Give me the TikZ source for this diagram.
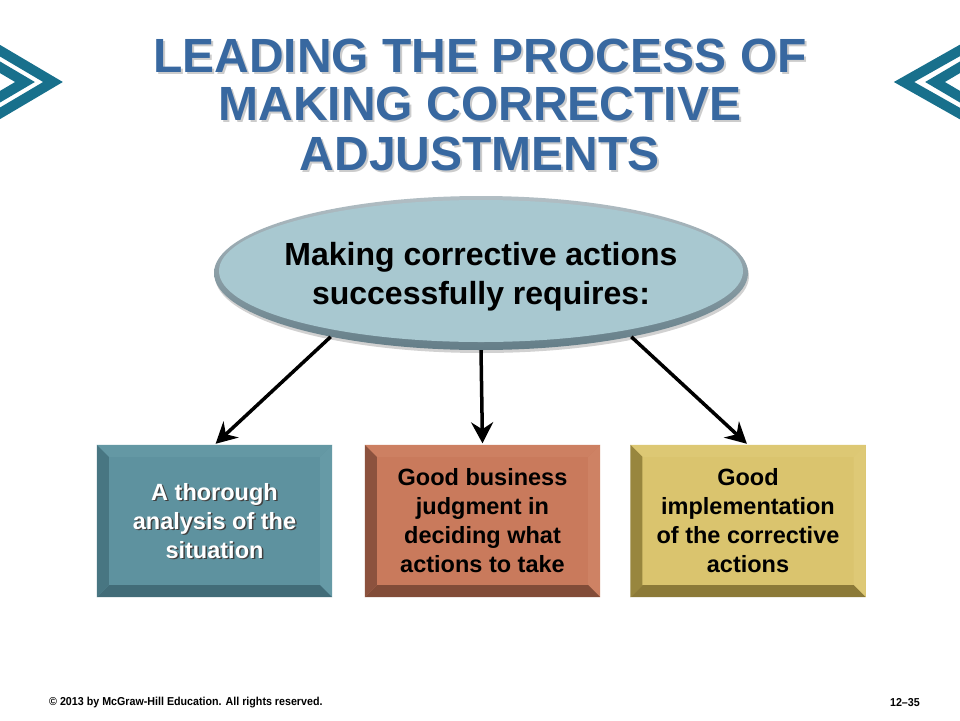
\documentclass[tikz,border=0pt]{standalone}
\usepackage{fontspec}
\setmainfont{Liberation Sans}
\newfontfamily\footfont[FakeStretch=0.93]{Liberation Sans Bold}
\usetikzlibrary{arrows.meta,calc,shapes.geometric}
\definecolor{chevc}{RGB}{24,112,140}
\definecolor{titlec}{RGB}{56,104,160}
\definecolor{ellfill}{RGB}{168,200,208}
\definecolor{rimtop}{RGB}{178,190,196}
\definecolor{rimbot}{RGB}{100,126,136}
\definecolor{aface}{RGB}{94,146,159}
\definecolor{atop}{RGB}{100,152,164}
\definecolor{aright}{RGB}{102,154,166}
\definecolor{aleft}{RGB}{72,118,130}
\definecolor{abot}{RGB}{66,108,120}
\definecolor{bface}{RGB}{201,122,92}
\definecolor{btop}{RGB}{205,128,98}
\definecolor{bright}{RGB}{206,130,100}
\definecolor{bleft}{RGB}{140,82,62}
\definecolor{bbot}{RGB}{130,76,56}
\definecolor{cface}{RGB}{218,196,110}
\definecolor{ctop}{RGB}{221,200,116}
\definecolor{cright}{RGB}{222,201,118}
\definecolor{cleft}{RGB}{152,134,62}
\definecolor{cbot}{RGB}{140,122,56}
\newcommand\mybevel[5]{%
  \fill[#2] (#1.north west) -- (#1.north east) -- ($(#1.north east)+(-12,12)$) -- ($(#1.north west)+(12,12)$) -- cycle;
  \fill[#3] (#1.north east) -- (#1.south east) -- ($(#1.south east)+(-12,-12)$) -- ($(#1.north east)+(-12,12)$) -- cycle;
  \fill[#4] (#1.south east) -- (#1.south west) -- ($(#1.south west)+(12,-12)$) -- ($(#1.south east)+(-12,-12)$) -- cycle;
  \fill[#5] (#1.south west) -- (#1.north west) -- ($(#1.north west)+(12,12)$) -- ($(#1.south west)+(12,-12)$) -- cycle;
}
\tikzset{
  chev/.style={draw=chevc, line width=10pt, miter limit=10},
  titletxt/.style={anchor=base, text=titlec, font=\bfseries\fontsize{48}{49}\selectfont, inner sep=0},
  titleshadow/.style={anchor=base, text=black!20, font=\bfseries\fontsize{48}{49}\selectfont, inner sep=0},
  boxnode/.style={minimum width=235pt, minimum height=152pt, inner sep=0, draw=none},
  boxtxt/.style={align=center, font=\bfseries\fontsize{23.5}{29}\selectfont, inner sep=0},
  arr/.style={line width=3.5pt, -{Stealth[length=21pt,width=22pt,inset=7pt]}, shorten >=1.5pt},
  foot/.style={font=\footfont\fontsize{11.5}{13}\selectfont, inner sep=0}
}
\begin{document}
\begin{tikzpicture}[x=1pt,y=-1pt]
\useasboundingbox (0,0) rectangle (960,720);
\fill[white] (0,0) rectangle (960,720);
\begin{scope}
\clip (0,0) rectangle (960,720);
\draw[chev] (-12,43.6) -- (53,82) -- (-12,120.4);
\draw[chev] (-12,60.2) -- (25,82) -- (-12,103.8);
\draw[chev] (972,43.6) -- (904,82) -- (972,120.4);
\draw[chev] (972,60.2) -- (935,82) -- (972,103.8);
\end{scope}
% title
\node[titleshadow] at (482,74) {LEADING THE PROCESS OF};
\node[titleshadow] at (482,122) {MAKING CORRECTIVE};
\node[titleshadow] at (482,172) {ADJUSTMENTS};
\node[titletxt] (t1) at (480,72) {LEADING THE PROCESS OF};
\node[titletxt] (t2) at (480,120) {MAKING CORRECTIVE};
\node[titletxt] (t3) at (480,170) {ADJUSTMENTS};
% ellipse
\fill[black!18] (482,276) ellipse [x radius=267, y radius=77];
\node[ellipse, minimum width=534pt, minimum height=154pt, inner sep=0, top color=rimtop, bottom color=rimbot] (ell) at (481,273) {};
\fill[ellfill] (481,271) ellipse [x radius=262, y radius=71];
\node[align=center, font=\bfseries\fontsize{32}{39}\selectfont, inner sep=0] (elltxt) at (481,277) {Making corrective actions\\successfully requires:};
% boxes
\node[boxnode, fill=aface] (box1) at (214.5,521) {};
\mybevel{box1}{atop}{aright}{abot}{aleft}
\node[boxtxt, text=black!75] at (216,522.5) {A thorough\\analysis of the\\situation};
\node[boxtxt, text=white] (l1) at (214.5,521) {A thorough\\analysis of the\\situation};
\node[boxnode, fill=bface] (box2) at (482.5,521) {};
\mybevel{box2}{btop}{bright}{bbot}{bleft}
\node[boxtxt] (l2) at (482.5,521) {Good business\\judgment in\\deciding what\\actions to take};
\node[boxnode, fill=cface] (box3) at (748,521) {};
\mybevel{box3}{ctop}{cright}{cbot}{cleft}
\node[boxtxt] (l3) at (748,521) {Good\\implementation\\of the corrective\\actions};
% arrows
\draw[arr] (ell.-157) -- (box1.north);
\draw[arr] (ell.south) -- (box2.north);
\draw[arr] (ell.-23) -- (box3.north);
% footer
\node[foot, anchor=west] (copy) at (49,703) {© 2013 by McGraw-Hill Education. All rights reserved.};
\node[foot, anchor=east] (pg) at (920,703) {12–35};
\end{tikzpicture}
\end{document}
